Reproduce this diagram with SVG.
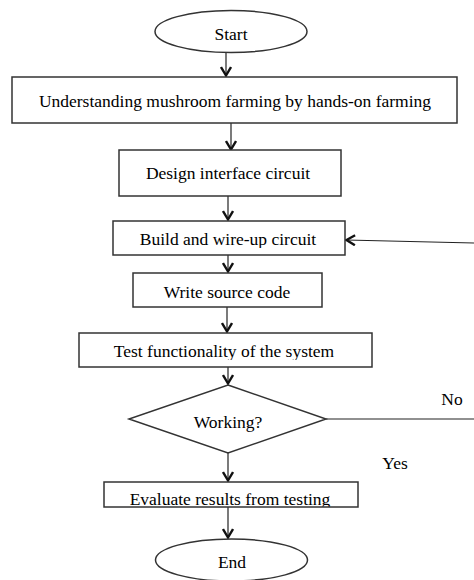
<svg xmlns="http://www.w3.org/2000/svg" width="474" height="580" viewBox="0 0 474 580">
<style>
.box{fill:#fff;stroke:#333;stroke-width:1.5}
.t{font-family:"Liberation Serif","Times New Roman",serif;font-size:17.5px;fill:#000;text-anchor:middle}
.c{stroke:#222;stroke-width:1.2;fill:none}
</style>
<defs>
<marker id="ah" markerUnits="userSpaceOnUse" markerWidth="14" markerHeight="12" refX="12" refY="6" orient="auto">
<polyline points="3,1 11.5,6 3,11" fill="none" stroke="#111" stroke-width="2.4"/>
</marker>
<clipPath id="cp3"><rect x="113" y="221" width="232" height="27"/></clipPath>
<clipPath id="cp5"><rect x="79" y="333" width="293" height="27"/></clipPath>
<clipPath id="cp7"><rect x="104" y="482" width="254" height="24.5"/></clipPath>
</defs>
<rect width="474" height="580" fill="#fff"/>
<g id="connectors">
<line class="c" x1="226" y1="53" x2="226" y2="76" marker-end="url(#ah)"/>
<line class="c" x1="231" y1="123" x2="231" y2="150" marker-end="url(#ah)"/>
<line class="c" x1="228" y1="196" x2="228" y2="220" marker-end="url(#ah)"/>
<line class="c" x1="228" y1="255" x2="228" y2="272" marker-end="url(#ah)"/>
<line class="c" x1="227" y1="307" x2="227" y2="332" marker-end="url(#ah)"/>
<line class="c" x1="228" y1="367" x2="228" y2="384" marker-end="url(#ah)"/>
<line class="c" x1="228" y1="453" x2="228" y2="481" marker-end="url(#ah)"/>
<line class="c" x1="228" y1="507" x2="228" y2="538" marker-end="url(#ah)"/>
<line class="c" x1="326" y1="419" x2="474" y2="419"/>
<line class="c" x1="474" y1="243" x2="346" y2="240" marker-end="url(#ah)"/>
<text class="t" x="452" y="405">No</text>
<text class="t" x="395" y="469">Yes</text>
</g>
<g id="start">
<ellipse class="box" cx="231" cy="31.5" rx="76" ry="21"/>
<text class="t" x="231" y="40">Start</text>
</g>
<g id="understand">
<rect class="box" x="12" y="77" width="445" height="46"/>
<text class="t" x="235" y="107">Understanding mushroom farming by hands-on farming</text>
</g>
<g id="design">
<rect class="box" x="119" y="150" width="222" height="46"/>
<text class="t" x="228" y="179">Design interface circuit</text>
</g>
<g id="build">
<rect class="box" x="113" y="221" width="232" height="34"/>
<text class="t" x="228" y="245" clip-path="url(#cp3)">Build and wire-up circuit</text>
</g>
<g id="write">
<rect class="box" x="133" y="273" width="189" height="34"/>
<text class="t" x="227" y="298">Write source code</text>
</g>
<g id="test">
<rect class="box" x="79" y="333" width="293" height="34"/>
<text class="t" x="224" y="357" clip-path="url(#cp5)">Test functionality of the system</text>
</g>
<g id="working">
<polygon class="box" points="228,385 326,419 228,453 129,419"/>
<text class="t" x="228" y="428">Working?</text>
</g>
<g id="evaluate">
<rect class="box" x="104" y="482" width="254" height="25"/>
<text class="t" x="230" y="505" clip-path="url(#cp7)">Evaluate results from testing</text>
</g>
<g id="end">
<ellipse class="box" cx="231.5" cy="560" rx="76" ry="21"/>
<text class="t" x="232" y="568">End</text>
</g>
</svg>
